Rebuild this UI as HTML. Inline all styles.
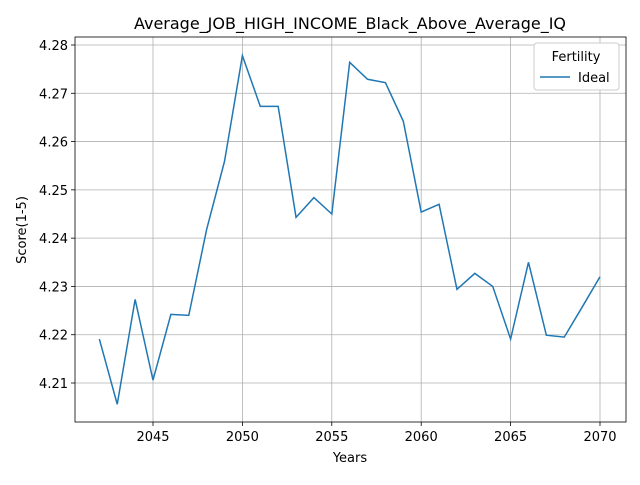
<!DOCTYPE html>
<html><head><meta charset="utf-8"><style>
body{margin:0;background:#fff;}
svg text{font-family:"DejaVu Sans","Liberation Sans",sans-serif;}
</style></head><body>
<svg width="640" height="480" id="c">
<rect x="0" y="0" width="640" height="480" fill="#fff"/>
<g id="grid"></g><g id="ticks"></g>
<polyline id="line" fill="none" stroke="#1f77b4" stroke-width="1.5"/>
<rect x="75" y="37" width="551" height="385" fill="none" stroke="#000" stroke-width="0.8"/>
<text x="350" y="29" text-anchor="middle" font-size="16">Average_JOB_HIGH_INCOME_Black_Above_Average_IQ</text>
<text x="350" y="462" text-anchor="middle" font-size="13">Years</text>
<text x="26" y="230" text-anchor="middle" font-size="13" transform="rotate(-90 26 230)">Score(1-5)</text>
<g>
<rect x="534" y="43" width="85" height="47" rx="3" fill="#fff" stroke="#ccc"/>
<text x="576" y="61" text-anchor="middle" font-size="13">Fertility</text>
<line x1="540" y1="77" x2="570" y2="77" stroke="#1f77b4" stroke-width="1.5"/>
<text x="578" y="82" font-size="13">Ideal</text>
</g>
</svg>
<script>
const years=[2042,2043,2044,2045,2046,2047,2048,2049,2050,2051,2052,2053,2054,2055,2056,2057,2058,2059,2060,2061,2062,2063,2064,2065,2066,2067,2068,2069,2070];
const ideal=[4.2191,4.2056,4.2273,4.2106,4.2242,4.2240,4.2418,4.2559,4.2778,4.2673,4.2673,4.2443,4.2484,4.2450,4.2764,4.2729,4.2722,4.2642,4.2454,4.2470,4.2294,4.2327,4.2300,4.2191,4.2350,4.2199,4.2195,4.2257,4.2320];
const xTicks=[2045,2050,2055,2060,2065,2070];
const yTicks=[4.21,4.22,4.23,4.24,4.25,4.26,4.27,4.28];
const X=v=>153+(v-2045)*(600-153)/25;
const Y=v=>383-(v-4.21)*(383-45)/0.07;
const ns="http://www.w3.org/2000/svg";
const g=document.getElementById('grid'),t=document.getElementById('ticks');
function mk(tag,a,p){const e=document.createElementNS(ns,tag);for(const k in a)e.setAttribute(k,a[k]);p.appendChild(e);return e;}
xTicks.forEach(v=>{const x=X(v);
const gl=mk('line',{x1:x,x2:x,y1:37,y2:422,stroke:'#b0b0b0','stroke-width':0.8},g);


mk('line',{x1:x,x2:x,y1:422,y2:426,stroke:'#000','stroke-width':0.8},t);
const tx=mk('text',{x:x,y:441,'text-anchor':'middle','font-size':13},t);tx.textContent=v;

});
yTicks.forEach(v=>{const y=Y(v);
const gl=mk('line',{x1:75,x2:626,y1:y,y2:y,stroke:'#b0b0b0','stroke-width':0.8},g);


mk('line',{x1:71,x2:75,y1:y,y2:y,stroke:'#000','stroke-width':0.8},t);
const tx=mk('text',{x:68,y:y+5,'text-anchor':'end','font-size':13},t);tx.textContent=v.toFixed(2);

});
document.getElementById('line').setAttribute('points',years.map((y,i)=>X(y)+','+Y(ideal[i])).join(' '));
</script>
</body></html>
